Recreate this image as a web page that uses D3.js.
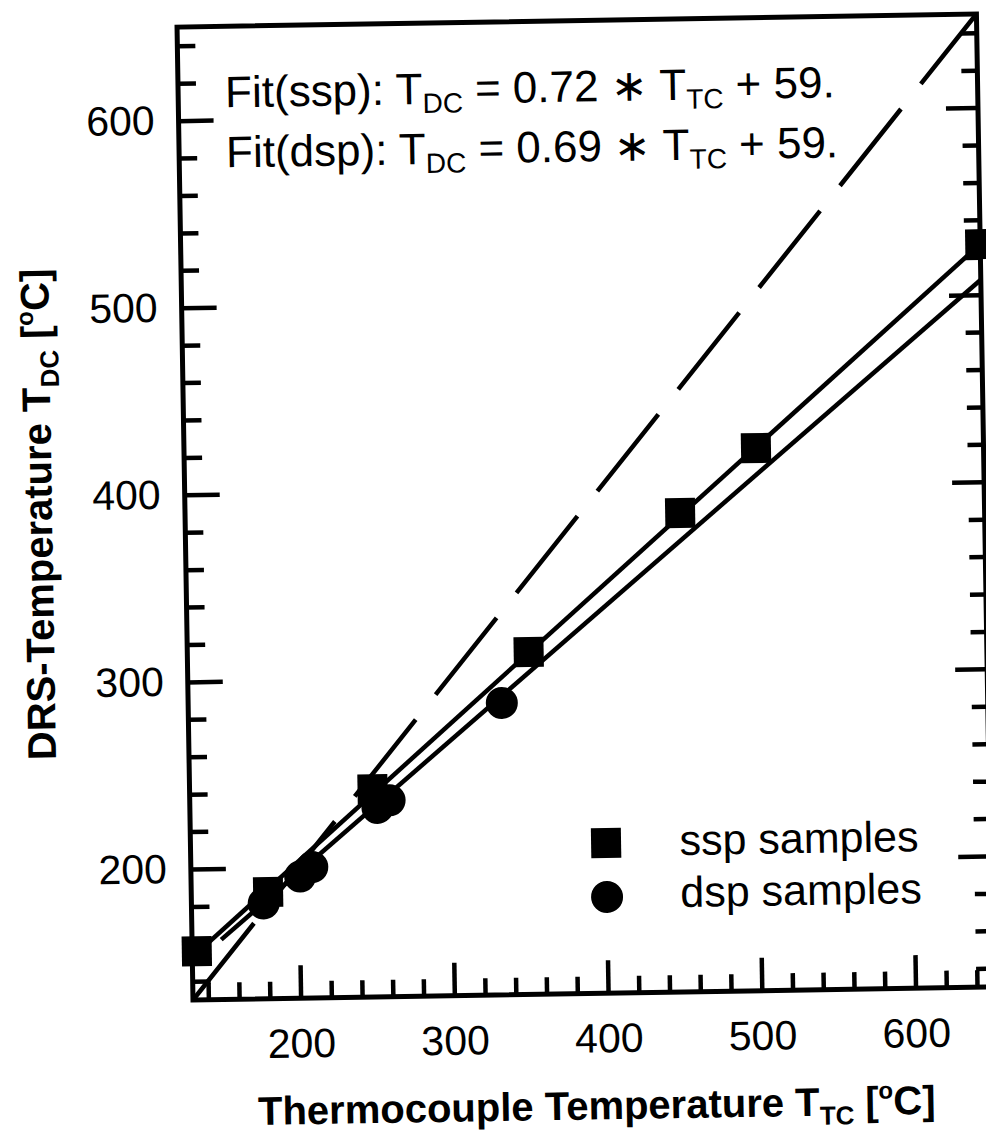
<!DOCTYPE html>
<html>
<head>
<meta charset="utf-8">
<script src="https://cdn.jsdelivr.net/npm/d3@7/dist/d3.min.js"></script>
<style>
  body { margin: 0; background: #fff; }
  svg { display: block; }
  text { font-family: "Liberation Sans", Arial, Helvetica, sans-serif; fill: #000; }
</style>
</head>
<body>
<div id="chart"></div>
<script>
// ssp samples (squares)
var sspX = [133, 180, 249, 352, 452, 502, 650];
var sspY = [156, 187, 241, 313, 386, 420, 527];

// dsp samples (circles)
var dspX = [177, 201, 209, 252, 260, 334];
var dspY = [181, 195, 200, 231, 235, 286];

// fit lines, end points
var sspFitX = [133, 650], sspFitY = [155, 527];
var dspFitX = [149, 650], dspFitY = [162, 508];

// T_DC = T_TC diagonal
var diagX = [130, 650], diagY = [130, 650];

// ticks
var majorTicks = [200, 300, 400, 500, 600];
var minorTicks = [140, 160, 180, 220, 240, 260, 280, 320, 340, 360, 380, 420, 440,
                  460, 480, 520, 540, 560, 580, 620, 640];

// fit labels
var fitNames = ["ssp", "dsp"];
var fitSlopes = ["0.72", "0.69"];
var fitIntercepts = ["59.", "59."];

var legendLabels = ["ssp samples", "dsp samples"];

var width = 986, height = 1140;
var margin = {top: 27, right: 992.5, bottom: 1000, left: 193};
var tilt = -0.94; // the scanned figure is slightly tilted

var svg = d3.select("#chart").append("svg")
  .attr("width", width)
  .attr("height", height);

var plot = svg.append("g")
  .attr("transform", "rotate(" + tilt + "," + margin.left + "," + margin.bottom + ")");

var x = d3.scaleLinear().domain([130, 650]).range([margin.left, margin.right]);
var y = d3.scaleLinear().domain([130, 650]).range([margin.bottom, margin.top]);

function styleAxis(g) {
  g.select(".domain").remove();
  g.selectAll(".tick line").attr("stroke", "#000").attr("stroke-width", 4.5);
  g.attr("font-family", null).attr("font-size", 41);
}

// bottom axis
plot.append("g")
  .attr("transform", "translate(0," + margin.bottom + ")")
  .call(d3.axisBottom(x).tickValues(minorTicks).tickSize(-17).tickFormat(""))
  .call(styleAxis);
plot.append("g")
  .attr("transform", "translate(0," + margin.bottom + ")")
  .call(d3.axisBottom(x).tickValues(majorTicks).tickSize(-33).tickPadding(30).tickFormat(d3.format("d")))
  .call(styleAxis);

// left axis
plot.append("g")
  .attr("transform", "translate(" + margin.left + ",0)")
  .call(d3.axisLeft(y).tickValues(minorTicks).tickSize(-18).tickFormat(""))
  .call(styleAxis);
plot.append("g")
  .attr("transform", "translate(" + margin.left + ",0)")
  .call(d3.axisLeft(y).tickValues(majorTicks).tickSize(-35).tickPadding(24).tickFormat(d3.format("d")))
  .call(styleAxis);

// right axis, ticks inward, no labels
plot.append("g")
  .attr("transform", "translate(" + margin.right + ",0)")
  .call(d3.axisLeft(y).tickValues(minorTicks).tickSize(16).tickFormat(""))
  .call(styleAxis);
plot.append("g")
  .attr("transform", "translate(" + margin.right + ",0)")
  .call(d3.axisLeft(y).tickValues(majorTicks).tickSize(32).tickFormat(""))
  .call(styleAxis);

// frame
plot.append("rect")
  .attr("x", margin.left)
  .attr("y", margin.top)
  .attr("width", margin.right - margin.left)
  .attr("height", margin.bottom - margin.top)
  .attr("fill", "none")
  .attr("stroke", "#000")
  .attr("stroke-width", 5);

var line = d3.line()
  .x(function(d) { return x(d[0]); })
  .y(function(d) { return y(d[1]); });

// diagonal
plot.append("path")
  .datum(d3.zip(diagX, diagY))
  .attr("d", line)
  .attr("fill", "none")
  .attr("stroke", "#000")
  .attr("stroke-width", 4.5)
  .attr("stroke-dasharray", "98,32");

// fit lines
[[sspFitX, sspFitY], [dspFitX, dspFitY]].forEach(function(f) {
  plot.append("path")
    .datum(d3.zip(f[0], f[1]))
    .attr("d", line)
    .attr("fill", "none")
    .attr("stroke", "#000")
    .attr("stroke-width", 4.5);
});

// squares
var sq = 30;
plot.selectAll(".ssp")
  .data(d3.zip(sspX, sspY))
  .enter().append("rect")
  .attr("class", "ssp")
  .attr("x", function(d) { return x(d[0]) - sq / 2; })
  .attr("y", function(d) { return y(d[1]) - sq / 2; })
  .attr("width", sq)
  .attr("height", sq)
  .attr("fill", "#000");

// circles
plot.selectAll(".dsp")
  .data(d3.zip(dspX, dspY))
  .enter().append("circle")
  .attr("class", "dsp")
  .attr("cx", function(d) { return x(d[0]); })
  .attr("cy", function(d) { return y(d[1]); })
  .attr("r", 16)
  .attr("fill", "#000");

// fit equations
fitNames.forEach(function(name, i) {
  var t = plot.append("text")
    .attr("x", 240)
    .attr("y", 108 + i * 60)
    .attr("font-size", 44);
  t.append("tspan").text("Fit(" + name + "): T");
  t.append("tspan").attr("font-size", 28).attr("dy", 9).text("DC");
  t.append("tspan").attr("dy", -9).text(" = " + fitSlopes[i] + " \u2217 T");
  t.append("tspan").attr("font-size", 28).attr("dy", 9).text("TC");
  t.append("tspan").attr("dy", -9).text(" + " + fitIntercepts[i]);
});

// legend
plot.append("rect")
  .attr("x", 608.6 - sq / 2).attr("y", 849.8 - sq / 2)
  .attr("width", sq).attr("height", sq).attr("fill", "#000");
plot.append("circle")
  .attr("cx", 608.7).attr("cy", 903.8).attr("r", 16).attr("fill", "#000");
legendLabels.forEach(function(l, i) {
  plot.append("text")
    .attr("x", 682)
    .attr("y", 863 + i * 52)
    .attr("font-size", 43)
    .text(l);
});

// axis titles
var xTitle = plot.append("text")
  .attr("x", 595)
  .attr("y", 1126)
  .attr("text-anchor", "middle")
  .attr("font-size", 40)
  .attr("font-weight", "bold");
xTitle.append("tspan").text("Thermocouple Temperature T");
xTitle.append("tspan").attr("font-size", 26).attr("dy", 9).text("TC");
xTitle.append("tspan").attr("dy", -9).text(" [");
xTitle.append("tspan").attr("font-size", 24).attr("dy", -16).text("o");
xTitle.append("tspan").attr("dy", 16).text("C]");

var yTitle = plot.append("text")
  .attr("transform", "translate(60,512) rotate(-90)")
  .attr("text-anchor", "middle")
  .attr("font-size", 40)
  .attr("font-weight", "bold");
yTitle.append("tspan").text("DRS-Temperature T");
yTitle.append("tspan").attr("font-size", 26).attr("dy", 9).text("DC");
yTitle.append("tspan").attr("dy", -9).text(" [");
yTitle.append("tspan").attr("font-size", 24).attr("dy", -16).text("o");
yTitle.append("tspan").attr("dy", 16).text("C]");
</script>
</body>
</html>
